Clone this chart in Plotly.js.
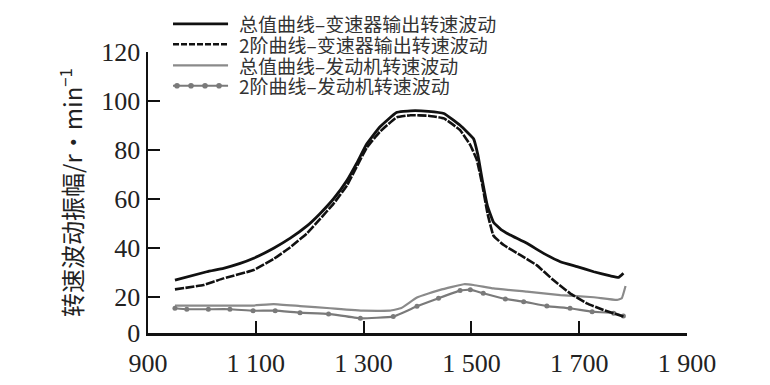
<!DOCTYPE html>
<html>
<head>
<meta charset="utf-8">
<script src="https://cdn.plot.ly/plotly-3.0.1.min.js"></script>
<style>html,body{margin:0;padding:0;background:#fff;}#chart{width:770px;height:385px;}</style>
</head>
<body>
<div id="chart"></div>
<script>
// ---- Data ----
var seriesNames = [
  "总值曲线–变速器输出转速波动",
  "2阶曲线–变速器输出转速波动",
  "总值曲线–发动机转速波动",
  "2阶曲线–发动机转速波动"
];

var gearTotalX = [950,1009,1040,1071,1096,1133,1164,1195,1219,1244,1269,1287,1306,1330,1361,1387,1420,1449,1479,1504,1512,1520,1530,1541,1555,1572,1603,1634,1665,1696,1727,1758,1773,1782];
var gearTotalY = [26.9,30.3,31.7,33.7,35.8,39.9,44.0,49.0,54.0,60.0,67.5,74.5,82.5,89.4,95.3,96.0,95.8,94.9,90.1,84.6,78,68,57,50.5,47.5,45.3,41.9,37.8,34.4,32.4,30.3,28.6,28.0,29.7];

var gearOrder2X = [950,1003,1040,1096,1133,1164,1195,1219,1244,1269,1306,1330,1361,1387,1420,1449,1479,1498,1510,1520,1530,1541,1560,1591,1621,1652,1683,1714,1745,1782];
var gearOrder2Y = [23.1,24.9,27.6,31.0,35.5,40.3,46.0,51.8,58.0,65.5,81.0,87.4,93.3,94.2,94.0,92.9,88.1,82.0,76,66,54,45.0,41.2,37.1,33.0,26.9,21.5,17.4,14.7,12.0];

var engTotalX = [950,1000,1050,1095,1133,1182,1238,1300,1349,1370,1399,1442,1486,1504,1541,1603,1665,1727,1770,1779,1786];
var engTotalY = [16.5,16.5,16.5,16.5,17.1,16.3,15.4,14.4,14.4,15.5,19.8,22.9,25.2,24.9,23.5,22.2,20.8,19.9,18.8,19.5,24.5];

var engOrder2X = [950,972,1012,1052,1095,1136,1182,1235,1294,1355,1399,1439,1479,1498,1522,1563,1597,1640,1683,1724,1764,1782];
var engOrder2Y = [15.4,15.0,15.0,15.0,14.4,14.4,13.6,13.1,11.3,12.0,16.2,19.5,22.6,23.0,21.5,19.2,18.1,16.3,15.4,14.0,13.4,12.2];

var xTickVals = [900,1100,1300,1500,1700,1900];
var xTickText = ["900","1 100","1 300","1 500","1 700","1 900"];
var yTickVals = [5.3,20,40,60,80,100,120];
var yTickText = ["0","20","40","60","80","100","120"];

// ---- Styling ----
var BLACK = "#111111", GRAY = "#8a8a8a", GRAYM = "#7a7a7a";
var styles = [
  {color: BLACK, width: 2.8, dash: "solid", markers: false},
  {color: BLACK, width: 2.6, dash: "9px,1.5px", markers: false},
  {color: GRAY,  width: 2.2, dash: "solid", markers: false},
  {color: GRAYM, width: 2.2, dash: "solid", markers: true}
];
var xs = [gearTotalX, gearOrder2X, engTotalX, engOrder2X];
var ys = [gearTotalY, gearOrder2Y, engTotalY, engOrder2Y];

var traces = [];
[2,3,0,1].forEach(function(i){
  var s = styles[i];
  traces.push({
    type: "scatter",
    mode: s.markers ? "lines+markers" : "lines",
    name: seriesNames[i],
    x: xs[i], y: ys[i],
    line: {color: s.color, width: s.width, dash: s.dash, shape: "spline", smoothing: 0.3},
    marker: {color: GRAYM, size: 5, symbol: "circle"},
    showlegend: false,
    hoverinfo: "skip"
  });
});

// ---- Manual legend (pixel -> paper helpers) ----
var L = 148, T = 51.7, PW = 538.7, PH = 281.3;
function px(x){ return (x - L) / PW; }
function py(y){ return (T + PH - y) / PH; }

var rowsY = [23.5, 44, 65, 85.5];
var legendDash = ["solid", "6px,2px", "solid", "solid"];
var shapes = [], annotations = [];
for (var i = 0; i < 4; i++) {
  var s = styles[i];
  shapes.push({type: "line", xref: "paper", yref: "paper",
    x0: px(173), x1: px(228), y0: py(rowsY[i]), y1: py(rowsY[i]),
    line: {color: s.color, width: s.width, dash: legendDash[i]}});
  if (s.markers) {
    [177, 191, 205, 219].forEach(function(mx){
      shapes.push({type: "circle", xref: "paper", yref: "paper",
        xsizemode: "pixel", ysizemode: "pixel",
        xanchor: px(mx), yanchor: py(rowsY[i]),
        x0: -2.8, x1: 2.8, y0: -2.8, y1: 2.8,
        fillcolor: GRAYM, line: {color: GRAYM, width: 0}});
    });
  }
  annotations.push({xref: "paper", yref: "paper", x: px(238), y: py(rowsY[i]),
    xanchor: "left", yanchor: "middle", showarrow: false, text: seriesNames[i],
    height: 19, borderpad: 0,
    font: {family: "Noto Sans CJK SC, sans-serif", size: 19, color: "#333"}});
}

var layout = {
  width: 770, height: 385,
  margin: {l: L, r: 770 - L - PW, t: T, b: 385 - T - PH, pad: 0},
  paper_bgcolor: "#fff", plot_bgcolor: "#fff",
  showlegend: false,
  xaxis: {
    range: [900, 1900], showgrid: false, zeroline: false,
    showline: true, linecolor: BLACK, linewidth: 2.5,
    ticks: "inside", ticklen: 12, tickwidth: 2, tickcolor: BLACK,
    tickmode: "array", tickvals: xTickVals, ticktext: xTickText,
    tickfont: {family: "Liberation Serif, serif", size: 26, color: "#222"},
    ticklabelstandoff: 5
  },
  yaxis: {
    range: [5.3, 120], showgrid: false, zeroline: false,
    showline: true, linecolor: BLACK, linewidth: 2.5,
    ticks: "inside", ticklen: 12, tickwidth: 2, tickcolor: BLACK,
    tickmode: "array", tickvals: yTickVals, ticktext: yTickText,
    tickfont: {family: "Liberation Serif, serif", size: 26, color: "#222"},
    title: {text: "转速波动振幅/r·min<sup>−1</sup>", standoff: 12,
      font: {family: "Noto Sans CJK SC, sans-serif", size: 24, color: "#222"}}
  },
  shapes: shapes,
  annotations: annotations
};

Plotly.newPlot("chart", traces, layout, {staticPlot: true, displayModeBar: false});
</script>
</body>
</html>
